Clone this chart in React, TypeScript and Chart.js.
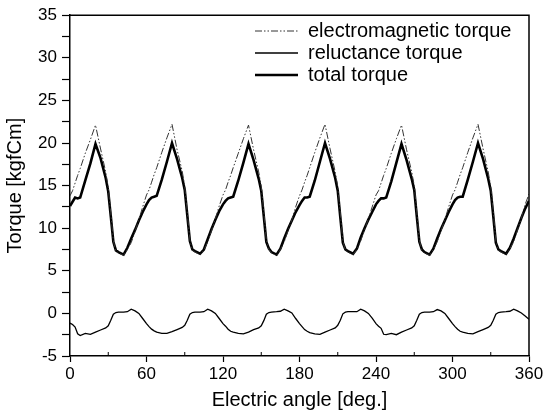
import React, { useEffect, useRef } from "react";
import { Chart, registerables } from "chart.js";

Chart.register(...registerables);

// Electric angle [deg.]
const angles = [
  0, 2, 4, 6, 8, 12, 16, 20, 24, 28, 30, 32, 34, 36, 38, 42, 45, 48, 51, 54, 57,
  60, 62, 64, 66, 68, 72, 76, 80, 84, 88, 90, 92, 94, 96, 98, 102, 105, 108, 111, 114, 117,
  120, 122, 124, 126, 128, 132, 136, 140, 144, 148, 150, 152, 154, 156, 158, 162, 165, 168, 171, 174, 177,
  180, 182, 184, 186, 188, 192, 196, 200, 204, 208, 210, 212, 214, 216, 218, 222, 225, 228, 231, 234, 237,
  240, 242, 244, 246, 248, 252, 256, 260, 264, 268, 270, 272, 274, 276, 278, 282, 285, 288, 291, 294, 297,
  300, 302, 304, 306, 308, 312, 316, 320, 324, 328, 330, 332, 334, 336, 338, 342, 345, 348, 351, 354, 357,
  360,
];

// electromagnetic torque [kgfCm]
const emTorque = [
  13.8, 14.4, 15.3, 16.2, 17.0, 18.8, 20.4, 22.1, 19.3, 16.6, 14.8, 11.8, 8.5, 7.3, 7.1, 6.8, 7.5, 8.3, 9.6, 11.0, 12.5,
  13.9, 14.5, 15.4, 16.3, 17.1, 18.9, 20.6, 22.2, 19.2, 16.7, 14.9, 11.9, 8.6, 7.4, 7.2, 6.9, 7.4, 8.4, 9.7, 11.1, 12.6,
  13.9, 14.5, 15.4, 16.2, 17.1, 18.8, 20.5, 22.1, 19.2, 16.6, 14.9, 11.9, 8.6, 7.5, 7.1, 6.8, 7.5, 8.4, 9.7, 11.0, 12.5,
  13.8, 14.5, 15.4, 16.2, 17.1, 18.9, 20.6, 22.2, 19.3, 16.6, 14.9, 11.8, 8.5, 7.4, 7.2, 6.9, 7.5, 8.5, 9.8, 11.1, 12.5,
  13.9, 14.4, 15.3, 16.2, 17.0, 18.8, 20.5, 22.1, 19.2, 16.6, 15.0, 11.9, 8.6, 7.4, 7.1, 6.8, 7.5, 8.4, 9.7, 11.0, 12.5,
  13.9, 14.5, 15.4, 16.3, 17.1, 18.9, 20.6, 22.2, 19.3, 16.6, 14.9, 11.9, 8.5, 7.4, 7.2, 6.9, 7.6, 8.4, 9.8, 11.2, 12.8,
  14.0,
];

// reluctance torque [kgfCm]
const reluctanceTorque = [
  -1.15, -1.3, -1.6, -2.4, -2.6, -2.35, -2.45, -2.2, -1.95, -1.7, -1.45, -0.8, -0.1, 0.1, 0.15, 0.15, 0.2, 0.5, 0.3, 0.0, -0.6,
  -1.2, -1.55, -1.85, -2.05, -2.2, -2.35, -2.35, -2.15, -1.9, -1.65, -1.4, -0.8, -0.1, 0.1, 0.15, 0.15, 0.2, 0.5, 0.3, 0.0, -0.6,
  -1.2, -1.5, -1.85, -2.1, -2.2, -2.35, -2.4, -2.2, -1.9, -1.7, -1.45, -0.85, -0.1, 0.1, 0.15, 0.2, 0.25, 0.5, 0.3, 0.05, -0.6,
  -1.2, -1.55, -1.9, -2.1, -2.25, -2.4, -2.45, -2.2, -1.95, -1.7, -1.4, -0.8, -0.05, 0.15, 0.2, 0.2, 0.2, 0.5, 0.3, 0.0, -0.55,
  -1.2, -1.5, -1.75, -2.45, -2.5, -2.35, -2.5, -2.2, -1.95, -1.7, -1.45, -0.8, -0.1, 0.1, 0.15, 0.15, 0.2, 0.45, 0.3, 0.0, -0.6,
  -1.2, -1.55, -1.85, -2.1, -2.2, -2.35, -2.4, -2.15, -1.9, -1.65, -1.4, -0.8, -0.1, 0.1, 0.15, 0.2, 0.25, 0.5, 0.3, 0.05, -0.3,
  -0.7,
];

// total torque [kgfCm]
const totalTorque = [
  12.6, 13.1, 13.6, 13.5, 13.6, 15.6, 17.6, 19.9, 18.2, 15.9, 14.3, 11.4, 8.4, 7.4, 7.2, 6.9, 7.7, 8.8, 9.8, 10.9, 11.9,
  12.8, 13.3, 13.6, 13.7, 13.8, 15.7, 17.8, 20.0, 18.1, 15.9, 14.5, 11.5, 8.5, 7.5, 7.3, 7.0, 7.5, 8.7, 9.9, 11.0, 12.0,
  12.8, 13.2, 13.5, 13.6, 13.7, 15.6, 17.7, 19.9, 18.0, 15.8, 14.4, 11.4, 8.4, 7.6, 7.2, 6.9, 7.6, 8.8, 9.9, 10.9, 11.9,
  12.7, 13.2, 13.6, 13.6, 13.7, 15.6, 17.8, 20.0, 18.1, 15.9, 14.4, 11.3, 8.3, 7.5, 7.3, 7.0, 7.6, 8.9, 10.0, 11.0, 11.9,
  12.8, 13.2, 13.5, 13.5, 13.6, 15.5, 17.7, 19.9, 18.0, 15.8, 14.5, 11.4, 8.4, 7.5, 7.2, 6.9, 7.6, 8.8, 9.9, 10.9, 11.9,
  12.8, 13.3, 13.6, 13.7, 13.7, 15.7, 17.8, 20.0, 18.1, 15.8, 14.4, 11.4, 8.3, 7.5, 7.3, 7.0, 7.7, 8.8, 10.0, 11.2, 12.3,
  13.2,
];

const seriesLabels = ["electromagnetic torque", "reluctance torque", "total torque"];
const xMin = 0;
const xMax = 360;
const xMajorStep = 60;
const xMinorStep = 30;
const yMin = -5;
const yMax = 35;
const yMajorStep = 5;
const yMinorStep = 2.5;

const FONT = "'Liberation Sans', Arial, Helvetica, sans-serif";

const framePlugin = {
  id: "frameAndLegend",
  afterDatasetsDraw(chart: any) {
    const { ctx, chartArea } = chart;
    const xs = chart.scales.x;
    ctx.save();
    // frame (top and right borders)
    ctx.strokeStyle = "#000";
    ctx.lineWidth = 1.5;
    ctx.beginPath();
    ctx.moveTo(chartArea.left, chartArea.top);
    ctx.lineTo(chartArea.right, chartArea.top);
    ctx.lineTo(chartArea.right, chartArea.bottom);
    ctx.stroke();
    // minor x ticks (inward)
    ctx.lineWidth = 1;
    for (let v = xMin + xMinorStep; v < xMax; v += xMajorStep) {
      const px = xs.getPixelForValue(v);
      ctx.beginPath();
      ctx.moveTo(px, chartArea.bottom);
      ctx.lineTo(px, chartArea.bottom - 4);
      ctx.stroke();
    }
    // legend
    const rows = [31, 53, 75];
    const x0 = 255;
    const x1 = 298;
    chart.data.datasets.forEach((ds: any, i: number) => {
      const y = rows[i];
      ctx.save();
      ctx.strokeStyle = ds.borderColor;
      ctx.lineWidth = ds.borderWidth;
      ctx.setLineDash(ds.borderDash || []);
      ctx.beginPath();
      ctx.moveTo(x0, y);
      ctx.lineTo(x1, y);
      ctx.stroke();
      ctx.restore();
      ctx.fillStyle = "#000";
      ctx.font = `20px ${FONT}`;
      ctx.textBaseline = "middle";
      ctx.textAlign = "left";
      ctx.fillText(ds.label, 308, y);
    });
    ctx.restore();
  },
};

export default function App() {
  const canvasRef = useRef<HTMLCanvasElement | null>(null);

  useEffect(() => {
    document.body.style.margin = "0";
    const canvas = canvasRef.current;
    if (!canvas) return;
    const toPoints = (ys: number[]) => angles.map((a, i) => ({ x: a, y: ys[i] }));
    const chart = new Chart(canvas, {
      type: "line",
      data: {
        datasets: [
          {
            label: seriesLabels[0],
            data: toPoints(emTorque),
            borderColor: "#333",
            borderWidth: 1,
            borderDash: [7, 2, 1.5, 2, 1.5, 2],
            pointRadius: 0,
            tension: 0,
          },
          {
            label: seriesLabels[1],
            data: toPoints(reluctanceTorque),
            borderColor: "#000",
            borderWidth: 1.3,
            pointRadius: 0,
            tension: 0,
          },
          {
            label: seriesLabels[2],
            data: toPoints(totalTorque),
            borderColor: "#000",
            borderWidth: 2.6,
            pointRadius: 0,
            tension: 0,
          },
        ],
      },
      options: {
        responsive: false,
        animation: false,
        devicePixelRatio: 1,
        layout: { padding: { left: 0, right: 18, top: 15, bottom: 0 } },
        plugins: { legend: { display: false }, tooltip: { enabled: false } },
        scales: {
          x: {
            type: "linear",
            min: xMin,
            max: xMax,
            afterFit: (s: any) => {
              s.height = 63;
            },
            ticks: {
              stepSize: xMinorStep,
              color: "#000",
              padding: 2,
              maxRotation: 0,
              autoSkip: false,
              font: { family: FONT, size: 17 },
              callback: (v: any) => (Number(v) % xMajorStep === 0 ? String(v) : ""),
            },
            grid: {
              drawOnChartArea: false,
              drawTicks: true,
              tickLength: 6,
              tickWidth: 1.2,
              tickColor: (c: any) =>
                c.tick && Number(c.tick.value) % xMajorStep === 0 ? "#000" : "rgba(0,0,0,0)",
            },
            border: { display: true, color: "#000", width: 1.5 },
            title: {
              display: true,
              text: "Electric angle [deg.]",
              color: "#000",
              font: { family: FONT, size: 20 },
              padding: { top: 0, bottom: 7 },
            },
          },
          y: {
            type: "linear",
            min: yMin,
            max: yMax,
            afterFit: (s: any) => {
              s.width = 70;
            },
            ticks: {
              stepSize: yMinorStep,
              color: "#000",
              padding: 5,
              autoSkip: false,
              font: { family: FONT, size: 17 },
              callback: (v: any) => (Number(v) % yMajorStep === 0 ? String(v) : ""),
            },
            grid: {
              drawOnChartArea: false,
              drawTicks: true,
              tickLength: 8,
              tickWidth: 1.2,
              tickColor: "#000",
            },
            border: { display: true, color: "#000", width: 1.5 },
            title: {
              display: true,
              text: "Torque [kgfCm]",
              color: "#000",
              font: { family: FONT, size: 20 },
              padding: { top: 3.5, bottom: 0 },
            },
          },
        },
      },
      plugins: [framePlugin],
    });
    return () => chart.destroy();
  }, []);

  return (
    <div style={{ width: 547, height: 419, background: "#fff" }}>
      <canvas ref={canvasRef} width={547} height={419} />
    </div>
  );
}
